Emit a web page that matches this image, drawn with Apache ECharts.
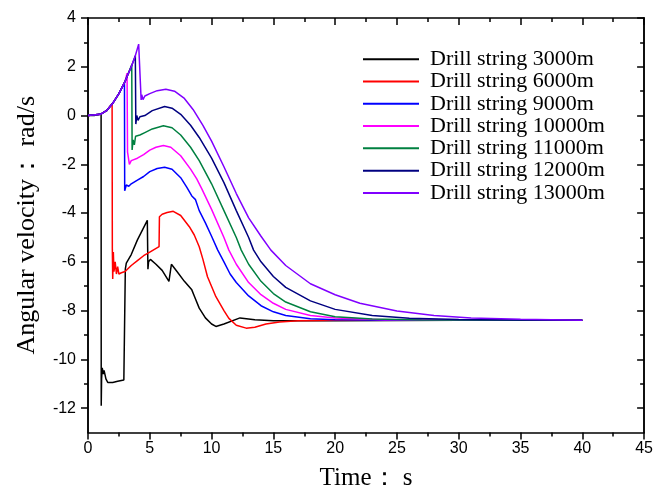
<!DOCTYPE html>
<html>
<head>
<meta charset="utf-8">
<script src="https://cdn.jsdelivr.net/npm/echarts@6/dist/echarts.min.js"></script>
<style>html,body{margin:0;padding:0;background:#fff}#c{width:656px;height:497px}</style>
</head>
<body>
<div id="c"></div>
<script>
const seriesNames = ['Drill string 3000m','Drill string 6000m','Drill string 9000m','Drill string 10000m','Drill string 11000m','Drill string 12000m','Drill string 13000m'];
const seriesColors = ['#000000','#ff0000','#0000ff','#ff00ff','#008040','#000080','#8000ff'];

const t3000 = [0,0.5,1.06,1.07,1.1,1.15,1.25,1.3,1.45,1.6,2.0,2.4,2.9,3.0,3.02,3.1,3.5,4.0,4.4,4.8,4.85,4.9,5.05,5.5,6.0,6.55,6.75,7.2,7.8,8.4,8.6,9.0,9.5,10.0,10.35,11.0,12.3,13.5,15,20,30,40];
const v3000 = [0,0,0.06,-11.9,-10.8,-10.35,-10.6,-10.45,-10.8,-10.95,-10.95,-10.9,-10.85,-10.8,-6.3,-6.05,-5.7,-5.1,-4.7,-4.3,-6.3,-6.0,-5.9,-6.1,-6.35,-6.8,-6.1,-6.4,-6.8,-7.15,-7.4,-7.9,-8.3,-8.55,-8.65,-8.55,-8.3,-8.38,-8.42,-8.42,-8.4,-8.4];

const t6000 = [0,1,1.5,1.95,1.97,2.0,2.05,2.1,2.2,2.3,2.4,2.5,2.7,3.0,3.5,4.0,4.5,5.0,5.75,5.78,5.9,6.0,6.4,6.9,7.5,8.2,8.6,9.0,9.3,9.67,10.35,11.0,11.4,12.0,12.8,13.5,14.4,15.5,17,20,40];
const v6000 = [0,0.05,0.2,0.48,-5.5,-6.7,-5.6,-6.4,-6.0,-6.5,-6.2,-6.5,-6.45,-6.4,-6.15,-5.95,-5.75,-5.6,-5.38,-4.15,-4.2,-4.05,-3.98,-3.93,-4.1,-4.56,-4.9,-5.38,-5.9,-6.61,-7.43,-8.0,-8.32,-8.6,-8.72,-8.68,-8.55,-8.47,-8.42,-8.4,-8.4];

const t9000 = [0,1,1.5,2.0,2.5,2.95,2.97,3.1,3.3,3.5,4,4.5,5,5.6,6.2,6.8,7.5,8.0,8.4,8.5,8.7,9.0,9.5,10,10.5,11,11.5,12,13,14,15,16,18,20,25,40];
const v9000 = [0,0.05,0.2,0.5,0.9,1.34,-3.09,-2.85,-2.9,-2.8,-2.65,-2.5,-2.3,-2.17,-2.12,-2.2,-2.55,-2.95,-3.3,-3.25,-3.45,-3.9,-4.4,-4.95,-5.52,-6.0,-6.5,-6.85,-7.4,-7.8,-8.05,-8.2,-8.33,-8.38,-8.4,-8.4];

const t10000 = [0,1,1.5,2.0,2.5,3.0,3.16,3.2,3.35,3.5,4,4.5,5,5.5,6.1,6.7,7.5,8.3,8.8,8.9,9.2,10,11,11.4,12,13,14,15,16,18,20,24,40];
const v10000 = [0,0.05,0.2,0.5,0.9,1.4,1.74,-1.5,-2.0,-1.85,-1.75,-1.6,-1.42,-1.3,-1.23,-1.3,-1.65,-2.2,-2.6,-2.65,-3.0,-3.85,-5.0,-5.52,-6.1,-6.85,-7.35,-7.7,-7.95,-8.2,-8.3,-8.38,-8.4];

const t11000 = [0,1,1.5,2.0,2.5,3.0,3.54,3.57,3.65,3.75,3.85,4.2,4.6,5.2,6.1,6.8,7.5,8.3,9,10,11,12,12.4,13,14,15,16,18,20,23,27,40];
const v11000 = [0,0.05,0.2,0.5,0.9,1.4,2.08,-1.41,-1.0,-1.2,-0.85,-0.8,-0.7,-0.55,-0.42,-0.5,-0.8,-1.3,-1.85,-2.8,-3.9,-5.0,-5.52,-6.1,-6.8,-7.3,-7.65,-8.05,-8.25,-8.35,-8.39,-8.4];

const t12000 = [0,1,1.5,2.0,2.5,3.0,3.5,3.83,3.87,3.95,4.05,4.2,4.6,5.2,6.2,6.8,7.5,8.3,9,10,11,12,13,13.4,14,15,16,18,20,23,26,30,35,40];
const v12000 = [0,0.05,0.2,0.5,0.9,1.4,2.0,2.45,-0.35,0.0,-0.2,-0.05,0.0,0.2,0.37,0.3,0.05,-0.4,-0.9,-1.75,-2.75,-3.9,-5.0,-5.52,-6.0,-6.6,-7.05,-7.6,-7.95,-8.2,-8.31,-8.37,-8.39,-8.4];

const t13000 = [0,1,1.5,2.0,2.5,3.0,3.5,3.8,4.1,4.3,4.35,4.45,4.6,5.0,5.6,6.3,7,7.8,8.5,9.3,10,11,12,13,14,14.8,16,18,20,22,25,28,31,35,40];
const v13000 = [0,0.05,0.2,0.5,0.9,1.4,2.0,2.4,2.93,0.64,0.85,0.65,0.8,0.9,1.02,1.08,1.0,0.7,0.25,-0.4,-1.05,-2.1,-3.2,-4.2,-4.95,-5.52,-6.15,-6.9,-7.35,-7.7,-8.02,-8.2,-8.3,-8.36,-8.4];

const xTicks = [0,5,10,15,20,25,30,35,40,45];
const yMajorTicks = [-12,-10,-8,-6,-4,-2,0,2,4];
const yMinorTicks = [-11,-9,-7,-5,-3,-1,1,3];

const allT = [t3000,t6000,t9000,t10000,t11000,t12000,t13000];
const allV = [v3000,v6000,v9000,v10000,v11000,v12000,v13000];

const chart = echarts.init(document.getElementById('c'));
const axisLine = {show:true, onZero:false, lineStyle:{color:'#000', width:1.5}};
const yBase = {type:'value', min:-13, max:4, splitLine:{show:false}, axisLine:axisLine};
const labelFont = {color:'#000', fontFamily:'Liberation Sans, Arial, sans-serif', fontSize:16};
const serif = 'Liberation Serif, Times New Roman, serif';

chart.setOption({
  animation:false,
  backgroundColor:'#fff',
  grid:{left:88, top:18, width:558, height:414.5, containLabel:false},
  legend:{
    orient:'vertical', left:358, top:43, itemWidth:56, itemHeight:2, itemGap:0, icon:'rect',
    textStyle:{fontFamily:serif, fontSize:22, color:'#000', lineHeight:22.3, padding:[0,0,0,6]},
    data:seriesNames
  },
  xAxis:[
    {type:'value', min:0, max:45, interval:5, position:'bottom', splitLine:{show:false}, axisLine:axisLine,
     axisTick:{show:true, length:7, inside:false, lineStyle:{color:'#000', width:1.5}},
     minorTick:{show:true, splitNumber:2, length:4, lineStyle:{color:'#000', width:1.5}},
     axisLabel:Object.assign({margin:8}, labelFont),
     name:'Time： s', nameLocation:'middle', nameGap:33,
     nameTextStyle:{fontFamily:serif, fontSize:25, color:'#000'}},
    {type:'value', min:0, max:45, interval:5, position:'top', splitLine:{show:false}, axisLine:axisLine,
     axisTick:{show:true, length:7, inside:true, lineStyle:{color:'#000', width:1.5}},
     minorTick:{show:true, splitNumber:2, length:4, lineStyle:{color:'#000', width:1.5}},
     axisLabel:{show:false}}
  ],
  yAxis:[
    Object.assign({}, yBase, {position:'left',
      axisTick:{show:true, length:7, inside:false, customValues:yMajorTicks, lineStyle:{color:'#000', width:1.5}},
      axisLabel:Object.assign({margin:12, customValues:yMajorTicks}, labelFont),
      name:'Angular velocity： rad/s', nameLocation:'middle', nameGap:48,
      nameTextStyle:{fontFamily:serif, fontSize:26, color:'#000'}}),
    Object.assign({}, yBase, {position:'left',
      axisTick:{show:true, length:4, inside:false, customValues:yMinorTicks, lineStyle:{color:'#000', width:1.5}},
      axisLabel:{show:false}}),
    Object.assign({}, yBase, {position:'right',
      axisTick:{show:true, length:7, inside:true, customValues:yMajorTicks, lineStyle:{color:'#000', width:1.5}},
      axisLabel:{show:false}}),
    Object.assign({}, yBase, {position:'right',
      axisTick:{show:true, length:4, inside:true, customValues:yMinorTicks, lineStyle:{color:'#000', width:1.5}},
      axisLabel:{show:false}})
  ],
  series: seriesNames.map((name, i) => ({
    name: name, type:'line', xAxisIndex:0, yAxisIndex:0,
    data: allT[i].map((t, j) => [t, allV[i][j]]),
    symbol:'none', smooth:false,
    lineStyle:{color:seriesColors[i], width:1.5},
    itemStyle:{color:seriesColors[i]}
  }))
});
</script>
</body>
</html>
